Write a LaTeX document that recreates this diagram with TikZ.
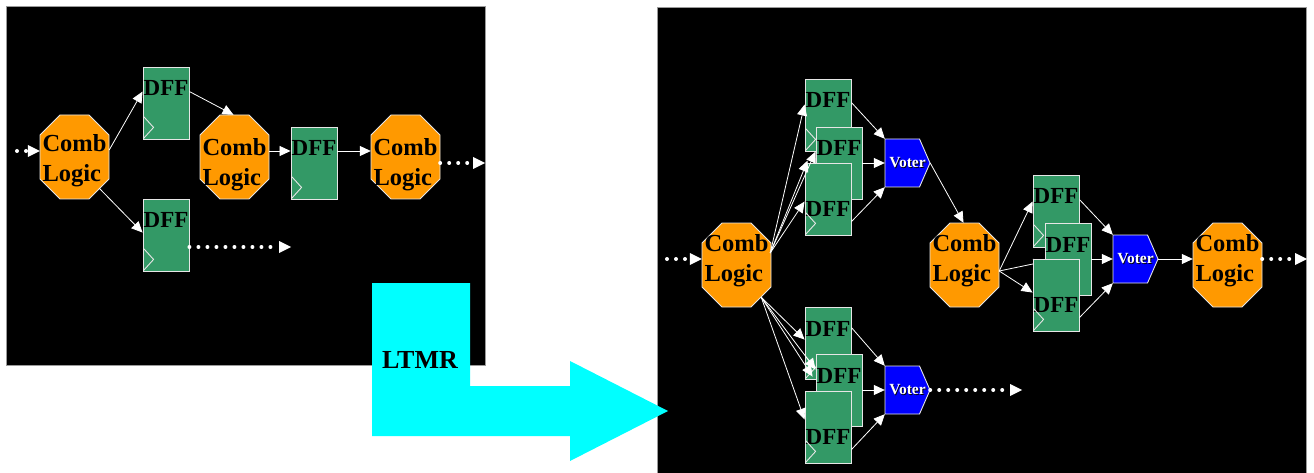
\documentclass[tikz,border=0pt]{standalone}
\usepackage{fontspec}
\setmainfont{Liberation Serif}
\usetikzlibrary{arrows.meta,calc}
\definecolor{cOrange}{HTML}{FF9900}
\definecolor{cGreen}{HTML}{339966}
\definecolor{cBlue}{HTML}{0000FF}
\definecolor{cCyan}{HTML}{00FFFF}
\definecolor{cBorder}{HTML}{E6E6E6}
\definecolor{cPanel}{HTML}{9A9A9A}
\newcommand\fCombLogic{\fontsize{24.5}{30}\selectfont\bfseries}
\newcommand\fDff{\fontsize{23}{27}\selectfont\bfseries}
\newcommand\fVoter{\fontsize{15.5}{18}\selectfont\bfseries}
\newcommand\fLtmr{\fontsize{26}{30}\selectfont\bfseries}
\newcommand\vtext{\rlap{\kern0.9pt\raisebox{-0.9pt}{\color{black}Voter}}Voter}
% octagon: name, x, y (top-left, pixel units), text offset
\newcommand\octo[4]{%
  \filldraw[octshape] (#2+20,#3) -- (#2+49,#3) -- (#2+69,#3+20) -- (#2+69,#3+64)
    -- (#2+49,#3+84) -- (#2+20,#3+84) -- (#2,#3+64) -- (#2,#3+20) -- cycle;
  \node[comb] (#1) at (#2+34.5,#3+42+#4) {Comb\\Logic};}
% voter: name, x, y
\newcommand\voter[3]{%
  \filldraw[votershape] (#2,#3) -- (#2+34.5,#3) -- (#2+45,#3+24) -- (#2+34.5,#3+48)
    -- (#2,#3+48) -- cycle;
  \node[voterbox] (#1) at (#2+22.5,#3+24) {\vtext};}
% flip-flop: name, x, y, style
\newcommand\dffbox[4]{%
  \node[#4] (#1) at (#2+23,#3+36) {DFF};
  \draw[clockline] ([shift={(1,-1)}]#1.south west) -- ([shift={(11,-12)}]#1.south west)
    -- ([shift={(1,-23)}]#1.south west);}
\begin{document}
\begin{tikzpicture}[x=1pt,y=-1pt,
  octshape/.style={fill=cOrange,draw=cBorder,line width=0.9pt},
  comb/.style={rectangle,minimum width=69pt,minimum height=84pt,inner sep=0pt,
    align=left,font=\fCombLogic,text=black},
  dff/.style={rectangle,fill=cGreen,draw=cBorder,line width=0.9pt,minimum width=46pt,
    minimum height=72pt,inner sep=0pt,font=\fDff,text=black,text height=16pt,text depth=30pt},
  dfflow/.style={dff,text height=34pt,text depth=0pt},
  clockline/.style={draw=cBorder,line width=0.9pt},
  votershape/.style={fill=cBlue,draw=cBorder,line width=0.9pt},
  voterbox/.style={rectangle,minimum width=45pt,minimum height=48pt,inner sep=0pt,
    font=\fVoter,text=white},
  conn/.style={draw=white,line width=0.8pt,-{Triangle[length=11pt,width=10pt]}},
  dots/.style={draw=white,line width=4pt,line cap=round,dash pattern=on 0pt off 9pt,
    -{Triangle[length=12pt,width=12pt,line width=0pt]}},
  panel/.style={fill=black,draw=cPanel,line width=1pt}]
\useasboundingbox (0,0) rectangle (1314,473);
\fill[white] (0,0) rectangle (1314,473);
% panels
\filldraw[panel] (6,7) rectangle (485,365);
\filldraw[panel] (657,8) rectangle (1306,476);
% LTMR arrow
\fill[cCyan] (372,283) -- (470,283) -- (470,386) -- (570,386) -- (570,361) -- (668,411)
  -- (570,461) -- (570,436) -- (372,436) -- cycle;
\node[font=\fLtmr,anchor=base] (ltmr) at (420,368) {LTMR};
% ---------- left circuit ----------
\octo{cl1}{40}{115}{4}
\octo{cl2}{200}{115}{8}
\octo{cl3}{371}{115}{8}
\dffbox{dffa}{143}{67}{dff}
\dffbox{dffb}{143}{199}{dff}
\dffbox{dffc}{291}{127}{dff}
\coordinate (inL) at (17,151);
\coordinate (outL3) at (485,163);
\coordinate (outLb) at (291,247);
\draw[dots] (inL) -- ([shift={(0,-10)}]cl1.west);
\draw[conn] ([shift={(0,-11)}]cl1.east) -- ([shift={(0,25)}]dffa.north west);
\draw[conn] ([shift={(-10,-15)}]cl1.south east) -- ([shift={(0,34)}]dffb.north west);
\draw[conn] ([shift={(0,25)}]dffa.north east) -- ([shift={(-1,-8)}]cl2.north);
\draw[conn] ([shift={(0,-14)}]cl2.east) -- ([shift={(0,-12)}]dffc.west);
\draw[conn] ([shift={(0,-12)}]dffc.east) -- ([shift={(0,-14)}]cl3.west);
\draw[dots] ([shift={(0,-2)}]cl3.east) -- (outL3);
\draw[dots] ([shift={(0,12)}]dffb.east) -- (outLb);
% ---------- right circuit ----------
\octo{clA}{702}{223}{-4}
\octo{clB}{930}{223}{-4}
\octo{clC}{1193}{223}{-4}
\dffbox{d1}{805}{79}{dff}
\dffbox{d2}{816}{127}{dff}
\dffbox{d3}{805}{163}{dfflow}
\dffbox{d4}{805}{307}{dff}
\dffbox{d5}{816}{354}{dff}
\dffbox{d6}{805}{391}{dfflow}
\dffbox{d7}{1033}{175}{dff}
\dffbox{d8}{1045}{223}{dff}
\draw[conn] ([shift={(0,10)}]clB.east) -- ([shift={(0,39)}]d8.north west);
\dffbox{d9}{1033}{259}{dfflow}
\voter{v1}{885}{139}
\voter{v2}{885}{366}
\voter{v3}{1113}{235}
\coordinate (inR) at (667,259);
\coordinate (outV2) at (1022,390);
\coordinate (outC) at (1307,259);
\draw[dots] (inR) -- ([shift={(0,-2)}]clA.west);
% fan-out from first logic block
\draw[conn] ([shift={(-1,-8)}]clA.east) -- ([shift={(0,26)}]d1.north west);
\draw[conn] ([shift={(-1,-8)}]clA.east) -- ([shift={(0,25)}]d2.north west);
\draw[conn] ([shift={(-1,-8)}]clA.east) -- ([shift={(3,-2)}]d3.north west);
\draw[conn] ([shift={(-1,-8)}]clA.east) -- ([shift={(0,39)}]d3.north west);
\draw[conn] ([shift={(-10,-6)}]clA.south east) -- ([shift={(0,33)}]d4.north west);
\draw[conn] ([shift={(-10,-6)}]clA.south east) -- ([shift={(0,16)}]d5.north west);
\draw[conn] ([shift={(-10,-6)}]clA.south east) -- ([shift={(-3,23)}]d5.north west);
\draw[conn] ([shift={(-10,-6)}]clA.south east) -- ([shift={(0,29)}]d6.north west);
% voters
\draw[conn] ([shift={(0,24)}]d1.north east) -- (v1.north west);
\draw[conn] (d2.east) -- (v1.west);
\draw[conn] ([shift={(0,59)}]d3.north east) -- (v1.south west);
\draw[conn] (v1.east) -- ([shift={(-1,4)}]clB.north);
\draw[conn] ([shift={(0,21)}]d4.north east) -- (v2.north west);
\draw[conn] (d5.east) -- (v2.west);
\draw[conn] ([shift={(0,59)}]d6.north east) -- (v2.south west);
\draw[dots] (v2.east) -- (outV2);
% second stage
\draw[conn] ([shift={(0,10)}]clB.east) -- ([shift={(0,27)}]d7.north west);
\draw[conn] ([shift={(0,10)}]clB.east) -- ([shift={(0,34)}]d9.north west);
\draw[conn] ([shift={(0,25)}]d7.north east) -- (v3.north west);
\draw[conn] (d8.east) -- (v3.west);
\draw[conn] ([shift={(0,59)}]d9.north east) -- (v3.south west);
\draw[conn] (v3.east) -- ([shift={(0,-2)}]clC.west);
\draw[dots] ([shift={(0,-2)}]clC.east) -- (outC);
\end{tikzpicture}
\end{document}
